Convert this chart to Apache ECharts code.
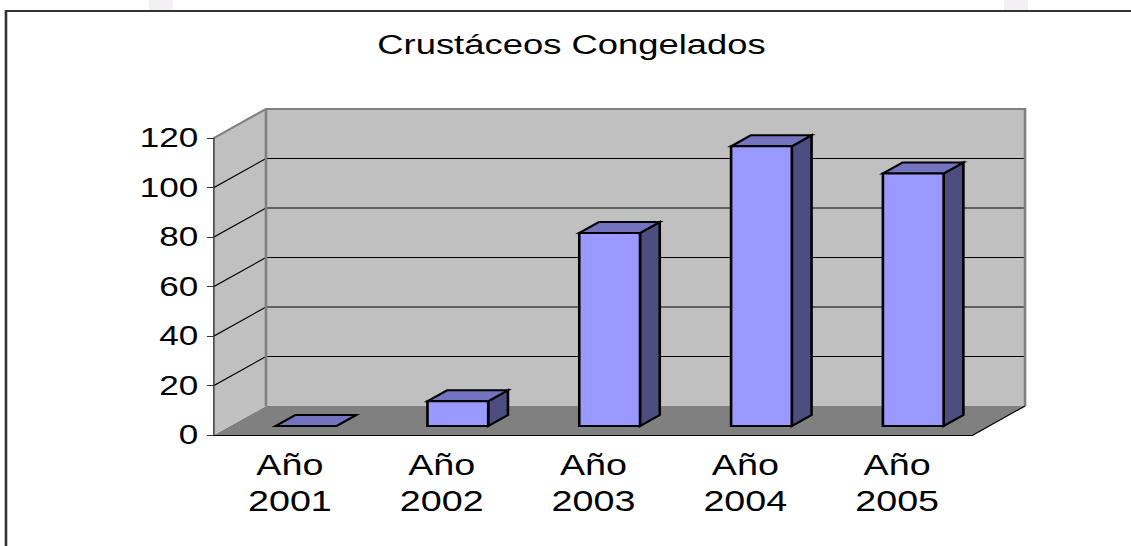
<!DOCTYPE html>
<html>
<head>
<meta charset="utf-8">
<script src="https://cdn.jsdelivr.net/npm/echarts@6/dist/echarts.min.js"></script>
<style>
html, body { margin: 0; padding: 0; background: #fff; overflow: hidden; }
/* the old chart has wide stretched text, so draw narrow and stretch */
#chart { width: 870px; height: 546px; transform: scaleX(1.3); transform-origin: 0 0; }
</style>
</head>
<body>
<div id="chart"></div>
<script>
var categories = ['Año\n2001', 'Año\n2002', 'Año\n2003', 'Año\n2004', 'Año\n2005'];
var values = [0, 10, 78, 113, 102];
var yTicks = [0, 20, 40, 60, 80, 100, 120];

var chart = echarts.init(document.getElementById('chart'), null, {renderer: 'svg'});

// depth of the 3d box (px, before stretch)
var DX = 40, DY = -29;
var BAR_FRONT = 0.31, BAR_BACK = 0.69, BAR_W = 0.4;
var font = 'Liberation Sans';

function renderFrame(params, api) {
	var cs = params.coordSys;
	var x0 = cs.x, x1 = cs.x + cs.width;
	var yb = api.coord([0, yTicks[0]])[1];
	var yt = api.coord([0, yTicks[yTicks.length - 1]])[1];
	var ch = [];
	//suelo
	ch.push({type: 'polygon', shape: {points: [[x0, yb], [x1, yb], [x1 + DX, yb + DY], [x0 + DX, yb + DY]]}, style: {fill: '#808080'}});
	//pared lateral
	ch.push({type: 'polygon', shape: {points: [[x0, yt], [x0 + DX, yt + DY], [x0 + DX, yb + DY], [x0, yb]]}, style: {fill: '#c0c0c0'}});
	//pared del fondo
	ch.push({type: 'rect', shape: {x: x0 + DX, y: yt + DY, width: x1 - x0, height: yb - yt}, style: {fill: '#c0c0c0'}});
	for (var i = 1; i < yTicks.length - 1; i++) {
		var y = api.coord([0, yTicks[i]])[1];
		ch.push({type: 'polyline', shape: {points: [[x0, y], [x0 + DX, y + DY], [x1 + DX, y + DY]]}, style: {stroke: '#000', lineWidth: 1, fill: null}});
	}
	ch.push({type: 'polyline', shape: {points: [[x0, yt], [x0 + DX, yt + DY], [x1 + DX, yt + DY], [x1 + DX, yb + DY]]}, style: {stroke: '#808080', lineWidth: 2, fill: null}});
	ch.push({type: 'line', shape: {x1: x0 + DX, y1: yt + DY, x2: x0 + DX, y2: yb + DY}, style: {stroke: '#808080', lineWidth: 2}});
	ch.push({type: 'line', shape: {x1: x1, y1: yb, x2: x1 + DX, y2: yb + DY}, style: {stroke: '#000', lineWidth: 1}});
	return {type: 'group', children: ch};
}

function renderBar(params, api) {
	var idx = api.value(0), v = api.value(1);
	var top = api.coord([idx, v]), base = api.coord([idx, 0]);
	var w = api.size([1, 0])[0] * BAR_W;
	var bx = (BAR_BACK - BAR_FRONT) * DX, by = (BAR_BACK - BAR_FRONT) * DY;
	var xl = top[0] - w / 2 + BAR_FRONT * DX, xr = xl + w;
	var yt = top[1] + BAR_FRONT * DY, yb = base[1] + BAR_FRONT * DY;
	var line = {stroke: '#000', lineWidth: 2, lineJoin: 'miter'};
	return {type: 'group', children: [
		{type: 'polygon', shape: {points: [[xr, yt], [xr + bx, yt + by], [xr + bx, yb + by], [xr, yb]]},
			style: echarts.util.extend({fill: '#4d4d80'}, line)},
		{type: 'polygon', shape: {points: [[xl, yt], [xr, yt], [xr + bx, yt + by], [xl + bx, yt + by]]},
			style: echarts.util.extend({fill: '#7373bf'}, line)},
		{type: 'rect', shape: {x: xl, y: yt, width: w, height: yb - yt},
			style: echarts.util.extend({fill: '#9999ff'}, line)}
	]};
}

var option = {
	animation: false,
	backgroundColor: '#fff',
	graphic: [
		{type: 'rect', silent: true, shape: {x: 114.6, y: 0, width: 18.5, height: 10}, style: {fill: '#f2f0f2'}},
		{type: 'rect', silent: true, shape: {x: 772.3, y: 0, width: 18.5, height: 10}, style: {fill: '#f2f0f2'}},
		{type: 'rect', silent: true, shape: {x: 4.6, y: 11, width: 1000, height: 700}, style: {fill: null, stroke: '#333', lineWidth: 2}},
		{type: 'text', silent: true, x: 439.6, y: 45,
			style: {text: 'Crustáceos Congelados', font: '28px "Liberation Sans"', fill: '#000', align: 'center', verticalAlign: 'middle'}}
	],
	grid: {left: 164.6, right: 121.5, top: 138, height: 297},
	xAxis: {
		type: 'category',
		data: categories,
		z: 10,
		axisLine: {lineStyle: {color: '#000', width: 1}},
		axisTick: {length: 8, lineStyle: {color: '#555'}},
		axisLabel: {color: '#000', fontFamily: font, fontSize: 29, lineHeight: 36, margin: 12}
	},
	yAxis: {
		type: 'value',
		min: 0, max: 120, interval: 20,
		z: 10,
		axisLine: {show: true, lineStyle: {color: '#222', width: 1}},
		axisTick: {show: true, length: 5.4, lineStyle: {color: '#333'}},
		splitLine: {show: false},
		axisLabel: {color: '#000', fontFamily: font, fontSize: 27, margin: 12}
	},
	series: [{
		type: 'custom',
		silent: true,
		z: 1,
		renderItem: renderFrame,
		data: [[0, 0]]
	}, {
		type: 'custom',
		z: 5,
		renderItem: renderBar,
		data: values.map(function(v, i) { return [i, v]; })
	}]
};
chart.setOption(option);
</script>
</body>
</html>
